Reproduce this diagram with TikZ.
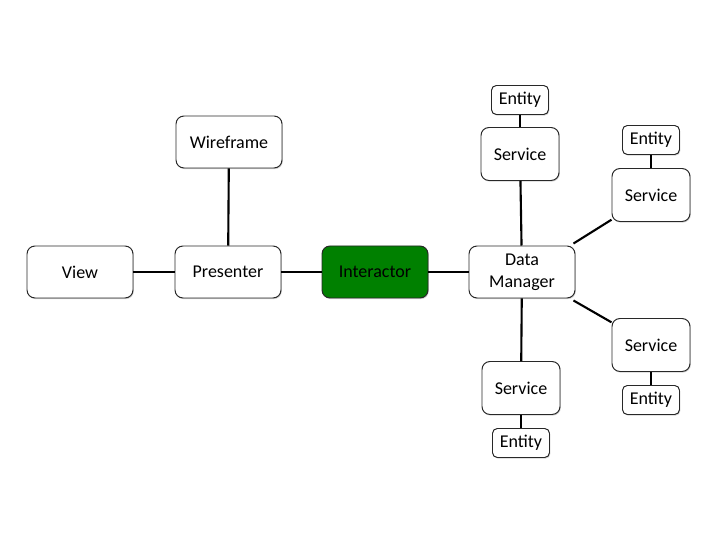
\documentclass[tikz,border=0pt]{standalone}
\usepackage{fontspec}
\setmainfont{Carlito}
\usepackage{xcolor}
\usepackage{tikz}
\usetikzlibrary{positioning, shadows}
\definecolor{boxline}{RGB}{40, 40, 40}
\definecolor{interact}{RGB}{0, 128, 0}
\tikzstyle{module} = [rectangle, rounded corners=0.2cm, minimum width=2.65cm, minimum height=1.3cm, text centered, draw=boxline, line width=0.7pt, fill=white, font=\fontsize{12.8}{15.6}\selectfont, drop shadow={shadow xshift=0.6pt, shadow yshift=-0.8pt, opacity=0.35}]
\tikzstyle{service} = [module, minimum width=1.95cm, minimum height=1.325cm]
\tikzstyle{entity} = [module, rounded corners=0.12cm, minimum width=1.425cm, minimum height=0.725cm]
\tikzstyle{link} = [line width=1.5pt, black]

\begin{document}
\begin{tikzpicture}
    \useasboundingbox (0,0) rectangle (18,13.5);

    % VIPER modules
    \node[module] (view) at (2.0, 6.7) {View};
    \node[module] (pres) at (5.7, 6.7) {Presenter};
    \node[module] (wire) at (5.725, 9.95) {Wireframe};
    \node[module, fill=interact] (inter) at (9.375, 6.7) {Interactor};
    \node[module, align=center] (dm) at (13.05, 6.7) {Data\\Manager};

    % Services
    \node[service] (st) at (13.0, 9.65) {Service};
    \node[service] (sru) at (16.275, 8.625) {Service};
    \node[service] (srl) at (16.275, 4.875) {Service};
    \node[service] (sb) at (13.025, 3.8) {Service};

    % Entities
    \node[entity] (et) at (13.0, 11.0) {Entity};
    \node[entity] (eru) at (16.275, 10.0) {Entity};
    \node[entity] (erl) at (16.275, 3.5) {Entity};
    \node[entity] (eb) at (13.025, 2.425) {Entity};

    % Links
    \draw[link] (view) -- (pres);
    \draw[link] (pres) -- (wire);
    \draw[link] (pres) -- (inter);
    \draw[link] (inter) -- (dm);
    \draw[link] (dm) -- (st);
    \draw[link] (dm.north east) ++(-0.05,0.05) -- (sru);
    \draw[link] (dm.south east) ++(-0.05,-0.05) -- (srl);
    \draw[link] (dm) -- (sb);
    \draw[link] (st) -- (et);
    \draw[link] (sru) -- (eru);
    \draw[link] (srl) -- (erl);
    \draw[link] (sb) -- (eb);
\end{tikzpicture}
\end{document}
